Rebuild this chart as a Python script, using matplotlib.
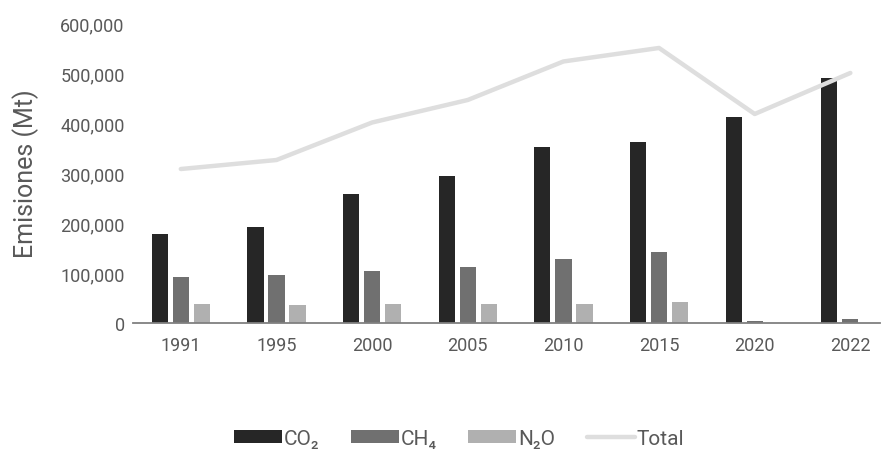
import matplotlib
matplotlib.use("Agg")
import matplotlib.pyplot as plt
import numpy as np

# datos
years = ["1991", "1995", "2000", "2005", "2010", "2015", "2020", "2022"]
co2 = [178000, 192000, 258000, 295000, 353000, 363000, 411000, 490000]
ch4 = [92000, 96000, 104000, 112000, 128000, 143000, 4000, 8000]
n2o = [38000, 36000, 38000, 38000, 39000, 42000, 1000, 0]
total = [308000, 326000, 401000, 446000, 523000, 550000, 418000, 500000]

plt.rcParams['font.family'] = ['Roboto', 'DejaVu Sans']

fig = plt.figure(figsize=(8.83, 4.52), dpi=100)
ax = fig.add_axes([0.1506, 0.283, 0.846, 0.664])

x = np.arange(len(years))
w = 0.17
off = 0.22
b1 = ax.bar(x - off, co2, w, color='#262626', label='CO₂', zorder=2)
b2 = ax.bar(x, ch4, w, color='#707070', label='CH₄', zorder=2)
b3 = ax.bar(x + off, n2o, w, color='#b0b0b0', label='N₂O', zorder=2)
l1, = ax.plot(x, total, color='#dedede', lw=3.2, label='Total', zorder=3,
              solid_capstyle='round')

ax.set_xlim(-0.5, 7.31)
ax.set_ylim(0, 600000)
ax.set_yticks(np.arange(0, 600001, 100000))
ax.set_yticklabels(['{:,}'.format(v) for v in range(0, 600001, 100000)])
ax.set_xticks(x)
ax.set_xticklabels(years)
ax.tick_params(length=0, labelsize=13, colors='#595959')
ax.tick_params(axis='x', pad=9)
ax.tick_params(axis='y', pad=6)

for s in ['top', 'right', 'left']:
    ax.spines[s].set_visible(False)
ax.spines['bottom'].set_color('#808080')
ax.spines['bottom'].set_linewidth(1.3)

ax.set_ylabel('Emisiones (Mt)', fontsize=18, color='#595959', labelpad=15)

fig.legend([b1, b2, b3, l1], ['CO₂', 'CH₄', 'N₂O', 'Total'],
           loc='center', bbox_to_anchor=(0.52, 0.028), ncol=4, frameon=False,
           fontsize=15, labelcolor='#595959', handlelength=2.3,
           handleheight=0.55, columnspacing=1.5, handletextpad=0.1)

fig.savefig('out.png', dpi=100, facecolor='white')
